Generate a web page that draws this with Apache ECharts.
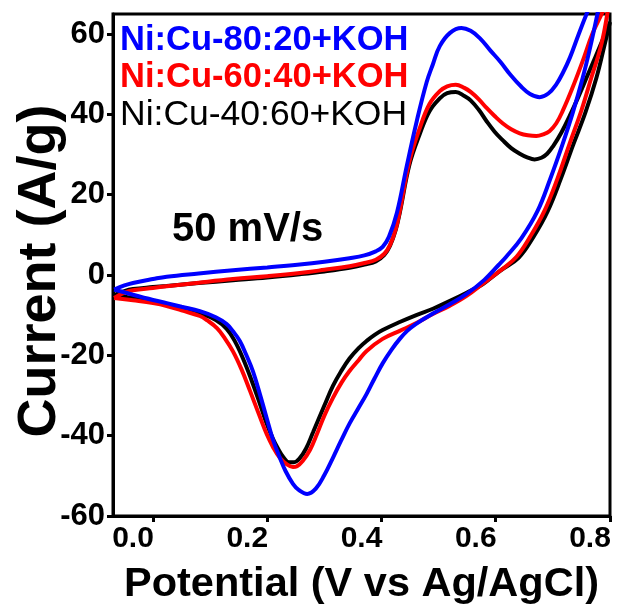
<!DOCTYPE html>
<html>
<head>
<meta charset="utf-8">
<script src="https://cdn.jsdelivr.net/npm/echarts@6/dist/echarts.min.js"></script>
<style>
  html, body { margin: 0; padding: 0; background: #fff; }
  #chart { width: 617px; height: 610px; }
</style>
</head>
<body>
<div id="chart"></div>
<script>
// Cyclic voltammograms at 50 mV/s: each loop runs from the left vertex
// up to 0.8 V (anodic sweep) and back again (cathodic sweep).

const potential8020 = [
  -0.068, -0.05, -0.035, 0.0, 0.024, 0.08, 0.14, 0.2, 0.257, 0.30, 0.344, 0.37, 0.39, 0.402, 0.413, 0.427,
  0.444, 0.462, 0.479, 0.49, 0.502, 0.52, 0.54, 0.556, 0.572, 0.59, 0.608, 0.626, 0.644, 0.66, 0.677, 0.692,
  0.706, 0.718, 0.73, 0.745, 0.759, 0.78, 0.8,
  0.79, 0.778, 0.765, 0.752, 0.735, 0.717, 0.695, 0.673, 0.645, 0.618, 0.605, 0.58, 0.549, 0.52, 0.49, 0.46,
  0.445, 0.432, 0.418, 0.402, 0.388, 0.374, 0.359, 0.344, 0.329, 0.315, 0.3, 0.285, 0.27, 0.255, 0.245, 0.232,
  0.222, 0.21, 0.199, 0.187, 0.175, 0.163, 0.152, 0.14, 0.129, 0.11, 0.082, 0.05, 0.024, 0.0, -0.035, -0.068
];
const current8020 = [
  -3.6, -2.6, -2.0, -1.0, -0.4, 0.4, 1.2, 1.9, 2.6, 3.3, 4.2, 4.9, 5.9, 7.0, 9.5, 15.5,
  27, 38.5, 48, 52.5, 57, 60.3, 61.5, 60.8, 59, 56, 53.1, 49.8, 47, 45.1, 44.3, 45.2,
  47.5, 50.5, 54.2, 59.9, 65, 72, 79,
  73.5, 65, 56.5, 49, 40.5, 32.6, 23.8, 15.9, 9.2, 4.5, 2.5, -1.2, -4.7, -7.2, -9.6, -12.2,
  -13.9, -15.9, -18.5, -22, -25.7, -29.6, -33.3, -37, -41.3, -45.5, -49.8, -53.2, -54.5, -53.5, -52, -48.8,
  -45.5, -41, -35.6, -29.6, -24, -19.8, -16.4, -14.0, -12.2, -10.5, -9, -7.9, -7.0, -6.2, -4.9, -3.6
];

const potential6040 = [
  -0.068, -0.05, -0.035, 0.0, 0.024, 0.08, 0.14, 0.2, 0.257, 0.30, 0.344, 0.37, 0.39, 0.405, 0.415, 0.425,
  0.432, 0.449, 0.467, 0.484, 0.502, 0.515, 0.53, 0.545, 0.556, 0.57, 0.584, 0.598, 0.612, 0.627, 0.642, 0.656,
  0.671, 0.683, 0.694, 0.706, 0.717, 0.734, 0.752, 0.769, 0.787, 0.8,
  0.797, 0.785, 0.767, 0.75, 0.729, 0.708, 0.685, 0.66, 0.636, 0.607, 0.577, 0.549, 0.519, 0.49, 0.462, 0.432,
  0.402, 0.374, 0.36, 0.344, 0.33, 0.315, 0.3, 0.287, 0.275, 0.262, 0.252, 0.245, 0.235, 0.222, 0.21, 0.199,
  0.185, 0.17, 0.155, 0.14, 0.125, 0.112, 0.095, 0.082, 0.05, 0.024, 0.0, -0.035, -0.068
];
const current6040 = [
  -5.7, -4.4, -3.8, -3.2, -2.8, -1.9, -1.0, -0.3, 0.5, 1.3, 2.2, 3.0, 3.8, 5.3, 7.5, 11.5,
  15.9, 28.4, 36.6, 42.6, 45.8, 47, 47.4, 46.6, 45.6, 43.8, 41.6, 39.6, 37.8, 36.3, 35.3, 34.8,
  34.6, 35, 35.8, 37.8, 40.8, 46.5, 53.2, 60, 65.5, 70,
  66.5, 57.5, 49, 41, 32.6, 24, 15.9, 9.5, 4.5, 1.0, -2.2, -5.2, -7.7, -9.7, -11.9, -13.9,
  -15.9, -18.9, -21.2, -23.9, -26.8, -30.6, -35, -39.6, -43.5, -46.3, -47.6, -47.8, -47.2, -45.5, -42.8, -39.6,
  -34.5, -28.9, -23.5, -19, -15.6, -13.2, -11.3, -10.2, -8.8, -7.7, -7.0, -6.3, -5.7
];

const potential4060 = [
  -0.068, -0.05, -0.035, 0.0, 0.024, 0.08, 0.14, 0.2, 0.257, 0.30, 0.344, 0.37, 0.39, 0.405, 0.415, 0.425,
  0.432, 0.449, 0.467, 0.484, 0.502, 0.515, 0.53, 0.545, 0.556, 0.57, 0.584, 0.598, 0.612, 0.627, 0.642, 0.655,
  0.668, 0.68, 0.69, 0.7, 0.715, 0.73, 0.745, 0.76, 0.775, 0.79, 0.8,
  0.79, 0.776, 0.757, 0.736, 0.714, 0.691, 0.666, 0.64, 0.607, 0.577, 0.549, 0.519, 0.49, 0.462, 0.432, 0.402,
  0.388, 0.374, 0.36, 0.344, 0.33, 0.315, 0.3, 0.28, 0.268, 0.257, 0.247, 0.238, 0.228, 0.218, 0.21, 0.198,
  0.187, 0.172, 0.157, 0.143, 0.129, 0.11, 0.082, 0.05, 0.024, 0.0, -0.035, -0.068
];
const current4060 = [
  -5.0, -4.0, -3.5, -3.0, -2.7, -2.0, -1.3, -0.6, 0.2, 0.9, 1.8, 2.6, 3.4, 5.0, 7.3, 11.3,
  15.5, 27.5, 35.1, 40.8, 44, 45.3, 45.6, 44.6, 43.5, 41.2, 38.3, 35.7, 33.6, 31.6, 30.2, 29.3,
  28.8, 29.2, 30.2, 32, 35.5, 39.8, 44.5, 49.5, 54.5, 59.5, 63,
  57, 49, 40.5, 32.6, 24, 15.9, 9.5, 4.3, 1.0, -2.3, -4.4, -6.5, -8.4, -9.9, -11.7, -13.7,
  -14.9, -16.4, -18.2, -20.8, -23.8, -27.6, -32.5, -39.2, -43.2, -45.6, -46.6, -46.6, -45.3, -43, -40.8, -36.6,
  -32, -26, -20.6, -16.4, -13.4, -11.2, -9.5, -8.2, -7.3, -6.6, -5.7, -5.0
];

const sampleNames = ['Ni:Cu-80:20+KOH', 'Ni:Cu-60:40+KOH', 'Ni:Cu-40:60+KOH'];
const sampleColors = ['#0000ff', '#ff0000', '#000000'];
const xTicks = [0, 0.2, 0.4, 0.6, 0.8];
const yTicks = [-60, -40, -20, 0, 20, 40, 60];
const scanRate = '50 mV/s';
const yTitle = 'Current (A/g)';

const FONT = '"Liberation Sans", Arial, sans-serif';

function pairs(xs, ys) {
  return xs.map((x, i) => [x, ys[i]]);
}

const loops = [
  pairs(potential8020, current8020),
  pairs(potential6040, current6040),
  pairs(potential4060, current4060)
];

// draw black first, blue last (on top)
const order = [2, 1, 0];
const series = order.map((k, n) => ({
  type: 'line',
  name: sampleNames[k],
  data: loops[k],
  showSymbol: false,
  smooth: 0.4,
  clip: true,
  z: 2 + n,
  lineStyle: { color: sampleColors[k], width: 4 },
  itemStyle: { color: sampleColors[k] }
}));

const chart = echarts.init(document.getElementById('chart'), null, { renderer: 'canvas' });

chart.setOption({
  animation: false,
  backgroundColor: '#ffffff',
  grid: {
    left: 113, right: 7, top: 14, bottom: 94,
    containLabel: false,
    outerBoundsMode: 'none',
    show: true, borderColor: '#000', borderWidth: 3, backgroundColor: 'transparent'
  },
  xAxis: {
    type: 'value',
    min: -0.07, max: 0.8,
    name: 'Potential (V vs Ag/AgCl)',
    nameLocation: 'middle',
    nameGap: 48,
    nameTextStyle: { fontFamily: FONT, fontWeight: 'bold', fontSize: 41.5, color: '#000' },
    splitLine: { show: false },
    axisLine: { show: true, onZero: false, lineStyle: { color: '#000', width: 3 } },
    axisTick: { show: true, inside: false, length: 6, lineStyle: { color: '#000', width: 3 }, customValues: xTicks },
    axisLabel: {
      customValues: xTicks,
      formatter: v => v.toFixed(1),
      fontFamily: FONT, fontWeight: 'bold', fontSize: 30, color: '#000',
      margin: 8,
      padding: [0, 40, 0, 0]
    }
  },
  yAxis: {
    type: 'value',
    min: -60, max: 65,
    splitLine: { show: false },
    axisLine: { show: true, onZero: false, lineStyle: { color: '#000', width: 3 } },
    axisTick: { show: true, inside: false, length: 6, lineStyle: { color: '#000', width: 3 }, customValues: yTicks },
    axisLabel: {
      customValues: yTicks,
      fontFamily: FONT, fontWeight: 'bold', fontSize: 31, color: '#000',
      margin: 8
    }
  },
  graphic: [
    { type: 'text', x: 40, y: 271, rotation: Math.PI / 2, z: 10,
      style: { text: yTitle, font: 'bold 54px ' + FONT, fill: '#000', align: 'center', verticalAlign: 'middle' } },
    { type: 'text', x: 120, y: 40, z: 10,
      style: { text: sampleNames[0], font: 'bold 34.5px ' + FONT, fill: sampleColors[0], verticalAlign: 'middle' } },
    { type: 'text', x: 120, y: 77, z: 10,
      style: { text: sampleNames[1], font: 'bold 34.5px ' + FONT, fill: sampleColors[1], verticalAlign: 'middle' } },
    { type: 'text', x: 120, y: 115, z: 10,
      style: { text: sampleNames[2], font: '35.5px ' + FONT, fill: sampleColors[2], verticalAlign: 'middle' } },
    { type: 'text', x: 172, y: 230, z: 10,
      style: { text: scanRate, font: 'bold 40px ' + FONT, fill: '#000', verticalAlign: 'middle' } }
  ],
  series: series
});
</script>
</body>
</html>
